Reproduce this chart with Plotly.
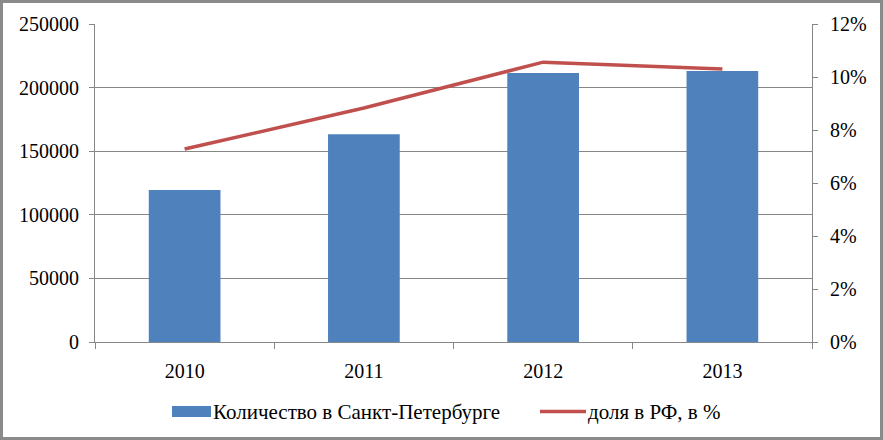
import plotly.graph_objects as go

years = ["2010", "2011", "2012", "2013"]
count_spb = [119400, 163400, 211400, 213000]
share_rf = [7.28, 8.83, 10.56, 10.30]
name_bar = "Количество в Санкт-Петербурге"
name_line = "доля в РФ, в %"

W, H = 883, 440
L, R, T, B = 95, 71, 24, 98
pw, ph = W - L - R, H - T - B
BLUE, RED = "#4F81BD", "#C0504D"


def px(x):
    return (x - L) / pw


def py(y):
    return (H - B - y) / ph


FAM = "Liberation Serif, Times New Roman, serif"
font = dict(family=FAM, size=20, color="black")

fig = go.Figure()
fig.add_trace(go.Bar(x=years, y=count_spb, name=name_bar,
                     marker=dict(color=BLUE, line=dict(width=0)), width=0.4))
fig.add_trace(go.Scatter(x=years, y=share_rf, name=name_line, yaxis="y2",
                         mode="lines", line=dict(color=RED, width=3.5)))

LEG_Y = 411.5
fig.update_layout(
    width=W, height=H,
    margin=dict(l=L, r=R, t=T, b=B, autoexpand=False),
    paper_bgcolor="white", plot_bgcolor="white",
    font=font,
    bargap=0.6,
    showlegend=False,
    xaxis=dict(type="category", showline=True, linecolor="#868686", linewidth=1,
               ticks="outside", tickson="boundaries", ticklen=6, tickcolor="#868686",
               showgrid=False, tickfont=font, ticklabelstandoff=11),
    yaxis=dict(range=[0, 250000], dtick=50000, showline=True, linecolor="#868686",
               ticks="outside", ticklen=5, tickcolor="#868686",
               showgrid=True, gridcolor="#868686", gridwidth=1, zeroline=False,
               tickformat="d", tickfont=font, ticklabelstandoff=6),
    yaxis2=dict(range=[0, 12], dtick=2, overlaying="y", side="right", showline=True,
                linecolor="#868686", ticks="outside", ticklen=5, tickcolor="#868686",
                showgrid=False, zeroline=False, ticksuffix="%", tickfont=font,
                ticklabelstandoff=8),
    shapes=[
        dict(type="rect", xref="paper", yref="paper",
             x0=px(1.5), x1=px(W - 1.5), y0=py(H - 1.5), y1=py(1.5),
             line=dict(color="#8a8a8a", width=3)),
        dict(type="rect", xref="paper", yref="paper",
             x0=px(172), x1=px(211), y0=py(LEG_Y + 5.5), y1=py(LEG_Y - 5.5),
             fillcolor=BLUE, line=dict(width=0)),
        dict(type="line", xref="paper", yref="paper",
             x0=px(540), x1=px(586), y0=py(LEG_Y), y1=py(LEG_Y),
             line=dict(color=RED, width=3.5)),
    ],
    annotations=[
        dict(text=name_bar, xref="paper", yref="paper", x=px(211), y=py(LEG_Y),
             xanchor="left", yanchor="middle", showarrow=False,
             font=dict(family=FAM, size=21, color="black")),
        dict(text=name_line, xref="paper", yref="paper", x=px(586), y=py(LEG_Y),
             xanchor="left", yanchor="middle", showarrow=False,
             font=dict(family=FAM, size=21, color="black")),
    ],
)

fig.write_html("out.html", config={"displayModeBar": False},
               post_script="document.body.style.margin='0px';document.body.style.overflow='hidden';")
